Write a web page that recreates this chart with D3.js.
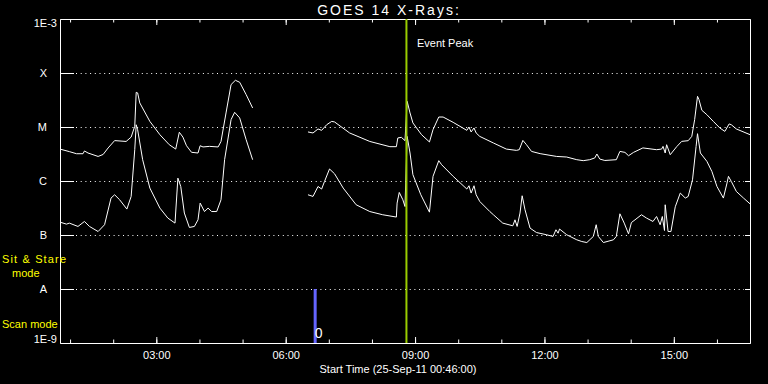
<!DOCTYPE html>
<html>
<head>
<meta charset="utf-8">
<script src="https://cdn.jsdelivr.net/npm/d3@7"></script>
<style>
  body { margin: 0; background: #000; }
  text { font-family: "Liberation Sans", Arial, sans-serif; }
</style>
</head>
<body>
<div id="wrapper"></div>
<script>
// GOES 14 X-ray flux, 25-Sep-2011 (W/m^2)
const day = "2011-09-25"
const startTime = "00:46"
const endTime = "16:46"

// long channel (1-8 A), upper curve; null = data gap
const longTimes = ["00:46","00:59","01:09","01:18","01:20","01:25","01:39","01:46","01:53","02:02",
  "02:18","02:25","02:30","02:32","02:34","02:37","02:51","03:05","03:18","03:27",
  "03:32","03:37","03:42","03:49","03:58","04:01","04:05","04:14","04:26","04:30",
  "04:37","04:44","04:50","04:56","05:05","05:14","06:00",
  "06:31","06:38","06:45","06:50","06:57","07:04","07:08","07:29","07:57","08:25",
  "08:34","08:36","08:41","08:46","08:49","08:53","08:57","09:09","09:20","09:25",
  "09:33","09:39","09:53","10:12","10:15","10:18","10:22","10:25","10:30","10:49",
  "11:07","11:21","11:25","11:30","11:35","11:42","11:54","12:17","12:31","12:45",
  "12:54","13:03","13:10","13:13","13:17","13:24","13:40","13:45","13:52","13:57",
  "14:04","14:17","14:36","14:43","14:45","14:48","14:50","14:55","15:04","15:11",
  "15:20","15:25","15:29","15:33","15:35","15:39","15:46","15:55","16:04","16:11",
  "16:17","16:20","16:27","16:46"]
const longFlux = [3.9e-6,3.5e-6,3.2e-6,3.2e-6,3.6e-6,3.3e-6,2.85e-6,3.1e-6,4.1e-6,5.6e-6,
  5.4e-6,6.5e-6,1.03e-5,4.39e-5,4.28e-5,2.79e-5,1.27e-5,7.2e-6,4.7e-6,3.9e-6,
  8.0e-6,6.5e-6,4.5e-6,3.4e-6,3.3e-6,4.5e-6,4.27e-6,4.38e-6,4.27e-6,5.4e-6,
  1.82e-5,6.1e-5,7.33e-5,6.73e-5,3.98e-5,2.25e-5,null,
  8.1e-6,7.75e-6,9.2e-6,8.67e-6,1.1e-5,1.27e-5,1.24e-5,7.75e-6,5.4e-6,4.32e-6,
  4.32e-6,6.27e-6,6.43e-6,5.6e-6,2.99e-5,1.82e-5,1.19e-5,7.21e-6,5.28e-6,8.93e-6,
  1.53e-5,1.53e-5,1.22e-5,8.67e-6,1.0e-5,8.09e-6,9.6e-6,7.75e-6,6.7e-6,5.06e-6,
  3.9e-6,3.69e-6,3.8e-6,5.65e-6,4.7e-6,3.53e-6,3.21e-6,2.85e-6,2.78e-6,2.48e-6,
  2.38e-6,2.48e-6,2.67e-6,3.16e-6,2.55e-6,2.4e-6,2.48e-6,3.53e-6,3.39e-6,2.94e-6,
  3.39e-6,4.1e-6,3.8e-6,3.9e-6,4.38e-6,3.3e-6,4.7e-6,3.07e-6,4.32e-6,5.42e-6,
  5.58e-6,6.7e-6,1.37e-5,3.7e-5,3.21e-5,2.04e-5,1.69e-5,1.27e-5,9.6e-6,8.3e-6,
  1.14e-5,1.1e-5,9.2e-6,7.21e-6]

// short channel (0.5-4 A), lower curve
const shortTimes = ["00:46","00:55","00:59","01:11","01:20","01:27","01:39","01:48","01:57","02:02",
  "02:09","02:19","02:25","02:30","02:32","02:34","02:41","02:51","03:05","03:16",
  "03:26","03:30","03:34","03:39","03:46","03:53","03:58","04:01","04:07","04:12",
  "04:17","04:24","04:30","04:35","04:44","04:49","04:56","05:05","05:14","06:00",
  "06:31","06:38","06:45","06:50","06:54","07:01","07:08","07:20","07:38","07:57",
  "08:15","08:34","08:35","08:38","08:43","08:46","08:49","08:53","08:57","09:08",
  "09:20","09:25","09:33","09:37","09:53","10:12","10:15","10:18","10:22","10:25",
  "10:30","10:44","10:49","11:02","11:16","11:19","11:22","11:26","11:29","11:33",
  "11:40","11:49","12:03","12:12","12:16","12:19","12:21","12:31","12:45","12:52",
  "12:59","13:08","13:12","13:15","13:22","13:36","13:40","13:45","13:51","13:57",
  "14:01","14:06","14:15","14:22","14:31","14:36","14:41","14:44","14:47","14:48",
  "14:52","14:56","15:02","15:09","15:16","15:20","15:26","15:31","15:33","15:37",
  "15:46","15:53","16:00","16:09","16:14","16:16","16:20","16:27","16:37","16:46"]
const shortFlux = [1.73e-7,1.59e-7,1.66e-7,1.44e-7,1.78e-7,1.44e-7,1.16e-7,1.55e-7,4.83e-7,5.56e-7,
  4.49e-7,3.02e-7,5.18e-7,3.8e-6,1.1e-5,8.93e-6,2.48e-6,7.4e-7,3.15e-7,2.06e-7,
  1.66e-7,1.13e-6,7.92e-7,2.55e-7,1.38e-7,1.44e-7,1.91e-7,3.9e-7,2.72e-7,3.15e-7,
  2.72e-7,2.72e-7,4.49e-7,2.48e-6,1.37e-5,1.87e-5,1.47e-5,5.82e-6,2.48e-6,null,
  5.56e-7,5.18e-7,7.92e-7,7.1e-7,9.8e-7,1.67e-6,1.36e-6,7.4e-7,3.63e-7,2.72e-7,
  2.37e-7,2.15e-7,3.9e-7,6.14e-7,4.49e-7,3.37e-7,6.7e-6,3.3e-6,1.31e-6,5.56e-7,
  2.65e-7,1.22e-6,2.38e-6,2.0e-6,1.22e-6,7.1e-7,8.17e-7,5.98e-7,8.17e-7,5.56e-7,
  4.18e-7,2.72e-7,2.37e-7,1.66e-7,1.48e-7,1.91e-7,1.44e-7,2.55e-7,5.33e-7,2.93e-7,
  1.34e-7,1.11e-7,1.01e-7,9.4e-8,1.25e-7,1.08e-7,1.29e-7,1.01e-7,8.15e-8,7.57e-8,
  7.25e-8,9.4e-8,1.55e-7,9.4e-8,7.25e-8,8.15e-8,9.4e-8,2.47e-7,1.66e-7,1.05e-7,
  1.7e-7,1.91e-7,2.37e-7,2.06e-7,1.78e-7,2.2e-7,1.55e-7,2.2e-7,1.21e-7,3.63e-7,
  1.16e-7,1.16e-7,3.33e-7,5.98e-7,4.83e-7,5.18e-7,1.05e-6,4.38e-6,7.52e-6,3.3e-6,
  2.31e-6,1.5e-6,7.92e-7,4.83e-7,9.16e-7,1.22e-6,9.8e-7,6.4e-7,4.83e-7,3.78e-7]

// flare classes on the y axis
const classLabels = ["A", "B", "C", "M", "X"]
const classFlux = [1e-8, 1e-7, 1e-6, 1e-5, 1e-4]
const edgeLabels = ["1E-9", "1E-3"]
const edgeFlux = [1e-9, 1e-3]

const eventPeakTime = "08:48"
const scanModeTime = "06:41"
const scanModeFlux = [1e-9, 1e-8]

const parseTime = d3.timeParse("%Y-%m-%d %H:%M")
const toDate = t => parseTime(day + " " + t)

const longData = longTimes.map((t, i) => ({ time: toDate(t), flux: longFlux[i] }))
const shortData = shortTimes.map((t, i) => ({ time: toDate(t), flux: shortFlux[i] }))

const width = 768
const height = 384
const margin = { top: 19, right: 18, bottom: 41, left: 60 }

const svg = d3.select("#wrapper").append("svg")
    .attr("width", width)
    .attr("height", height)
    .style("background", "#000")

const xScale = d3.scaleTime()
    .domain([toDate(startTime), toDate(endTime)])
    .range([margin.left, width - margin.right])

const yScale = d3.scaleLog()
    .domain([1e-9, 1e-3])
    .range([height - margin.bottom, margin.top])

const white = "#fff"
const styleAxis = g => {
  g.selectAll("path, line").attr("stroke", white)
  g.selectAll("text").attr("fill", white).style("font-size", "11px")
}

// dotted class lines
svg.append("g")
  .selectAll("line")
  .data(classFlux)
  .join("line")
    .attr("x1", xScale.range()[0] + 16)
    .attr("x2", xScale.range()[1] - 6)
    .attr("y1", d => Math.round(yScale(d)) + 0.5)
    .attr("y2", d => Math.round(yScale(d)) + 0.5)
    .attr("stroke", white)
    .attr("stroke-dasharray", "1,3.7")

// bottom axis, ticks pointing up
const bottom = height - margin.bottom
svg.append("g").attr("transform", `translate(0,${bottom})`)
  .call(d3.axisBottom(xScale).ticks(d3.timeHour.every(1)).tickSizeInner(-3.5).tickSizeOuter(0).tickFormat(""))
  .call(styleAxis)
svg.append("g").attr("transform", `translate(0,${bottom})`)
  .call(d3.axisBottom(xScale).ticks(d3.timeHour.every(3)).tickSizeInner(-6).tickSizeOuter(0)
    .tickPadding(8).tickFormat(d3.timeFormat("%H:%M")))
  .call(styleAxis)

// top axis, ticks pointing down
svg.append("g").attr("transform", `translate(0,${margin.top})`)
  .call(d3.axisTop(xScale).ticks(d3.timeHour.every(1)).tickSizeInner(-3.5).tickSizeOuter(0).tickFormat(""))
  .call(styleAxis)
svg.append("g").attr("transform", `translate(0,${margin.top})`)
  .call(d3.axisTop(xScale).ticks(d3.timeHour.every(3)).tickSizeInner(-6).tickSizeOuter(0).tickFormat(""))
  .call(styleAxis)

// left axis with class letters
svg.append("g").attr("transform", `translate(${margin.left},0)`)
  .call(d3.axisLeft(yScale).tickValues(classFlux).tickSizeInner(-14).tickSizeOuter(0)
    .tickPadding(13).tickFormat((d, i) => classLabels[i]))
  .call(styleAxis)

// right axis
svg.append("g").attr("transform", `translate(${width - margin.right},0)`)
  .call(d3.axisRight(yScale).tickValues(classFlux).tickSizeInner(-5).tickSizeOuter(0).tickFormat(""))
  .call(styleAxis)

// 1E-9 / 1E-3 end labels
svg.append("g")
  .selectAll("text")
  .data(edgeFlux)
  .join("text")
    .attr("x", margin.left - 3)
    .attr("y", d => yScale(d) + (d === 1e-3 ? 7.5 : 0))
    .attr("text-anchor", "end")
    .attr("fill", white)
    .style("font-size", "11px")
    .text((d, i) => edgeLabels[i])

// flux curves
const line = d3.line()
    .defined(d => d.flux != null)
    .x(d => xScale(d.time))
    .y(d => yScale(d.flux))

svg.append("path")
    .datum(longData)
    .attr("d", line)
    .attr("fill", "none")
    .attr("stroke", white)
    .attr("stroke-width", 1)

svg.append("path")
    .datum(shortData)
    .attr("d", line)
    .attr("fill", "none")
    .attr("stroke", white)
    .attr("stroke-width", 1)

// scan mode bar
const scanX = xScale(toDate(scanModeTime))
svg.append("rect")
    .attr("x", scanX - 1.5)
    .attr("width", 3)
    .attr("y", yScale(scanModeFlux[1]))
    .attr("height", yScale(scanModeFlux[0]) - yScale(scanModeFlux[1]))
    .attr("fill", "#6464ff")

svg.append("text")
    .attr("x", scanX - 0.5)
    .attr("y", yScale(scanModeFlux[0]) - 5)
    .attr("fill", white)
    .style("font-size", "14px")
    .text("0")

// event peak marker
const peakX = xScale(toDate(eventPeakTime))
svg.append("line")
    .attr("x1", peakX).attr("x2", peakX)
    .attr("y1", yScale(1e-3)).attr("y2", yScale(1e-9))
    .attr("stroke", "#99cc00")
    .attr("stroke-width", 2)

svg.append("text")
    .attr("x", peakX + 10.5)
    .attr("y", 46.5)
    .attr("fill", white)
    .style("font-size", "11px")
    .text("Event Peak")

// titles
svg.append("text")
    .attr("x", 389)
    .attr("y", 15)
    .attr("text-anchor", "middle")
    .attr("fill", white)
    .style("font-size", "14px")
    .style("letter-spacing", "2px")
    .text("GOES 14 X-Rays:")

svg.append("text")
    .attr("x", 398)
    .attr("y", 372.5)
    .attr("text-anchor", "middle")
    .attr("fill", white)
    .style("font-size", "11px")
    .text("Start Time (25-Sep-11 00:46:00)")

// mode notes
const yellow = "#ffff00"
svg.append("text").attr("x", 2).attr("y", 263).attr("fill", yellow)
    .style("font-size", "11px").attr("textLength", 64).attr("lengthAdjust", "spacing")
    .text("Sit & Stare")
svg.append("text").attr("x", 12).attr("y", 276.5).attr("fill", yellow)
    .style("font-size", "11px")
    .text("mode")
svg.append("text").attr("x", 2).attr("y", 327.5).attr("fill", yellow)
    .style("font-size", "11px")
    .text("Scan mode")
</script>
</body>
</html>
